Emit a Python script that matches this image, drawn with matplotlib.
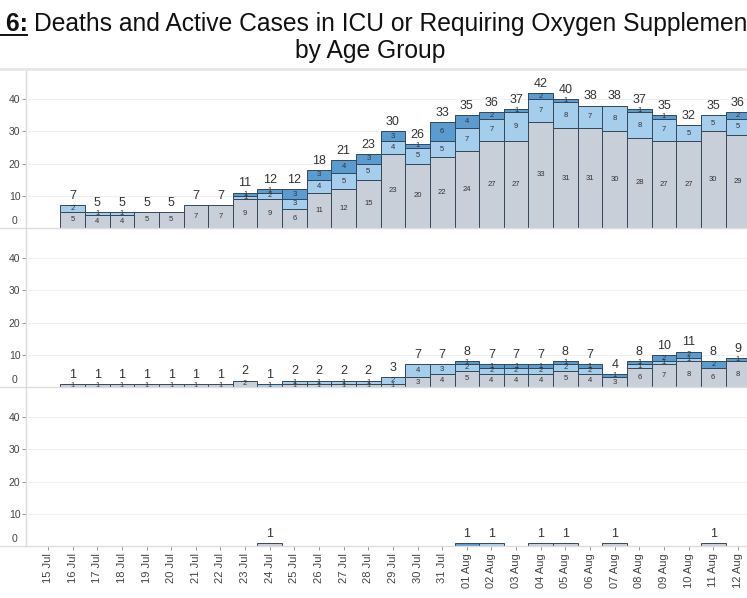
import matplotlib
matplotlib.use("Agg")
import matplotlib.pyplot as plt
from matplotlib.lines import Line2D
from matplotlib.transforms import blended_transform_factory
import numpy as np

plt.rcParams['font.family'] = ['Liberation Sans', 'DejaVu Sans']

# Dates on the x axis
dates = ["15 Jul", "16 Jul", "17 Jul", "18 Jul", "19 Jul", "20 Jul", "21 Jul", "22 Jul",
         "23 Jul", "24 Jul", "25 Jul", "26 Jul", "27 Jul", "28 Jul", "29 Jul", "30 Jul",
         "31 Jul", "01 Aug", "02 Aug", "03 Aug", "04 Aug", "05 Aug", "06 Aug", "07 Aug",
         "08 Aug", "09 Aug", "10 Aug", "11 Aug", "12 Aug"]

# Top panel
top_gray = [0, 5, 4, 4, 5, 5, 7, 7, 9, 9, 6, 11, 12, 15, 23, 20, 22, 24, 27, 27, 33, 31, 31, 30, 28, 27, 27, 30, 29]
top_light = [0, 2, 1, 1, 0, 0, 0, 0, 1, 2, 3, 4, 5, 5, 4, 5, 5, 7, 7, 9, 7, 8, 7, 8, 8, 7, 5, 5, 5]
top_dark = [0, 0, 0, 0, 0, 0, 0, 0, 1, 1, 3, 3, 4, 3, 3, 1, 6, 4, 2, 1, 2, 1, 0, 0, 1, 1, 0, 0, 2]

# Middle panel
mid_gray = [0, 1, 1, 1, 1, 1, 1, 1, 2, 0, 1, 1, 1, 1, 1, 3, 4, 5, 4, 4, 4, 5, 4, 3, 6, 7, 8, 6, 8]
mid_light = [0, 0, 0, 0, 0, 0, 0, 0, 0, 1, 1, 1, 1, 1, 2, 4, 3, 2, 2, 2, 2, 2, 2, 0, 1, 1, 1, 0, 0]
mid_dark = [0, 0, 0, 0, 0, 0, 0, 0, 0, 0, 0, 0, 0, 0, 0, 0, 0, 1, 1, 1, 1, 1, 1, 1, 1, 2, 2, 2, 1]

# Bottom panel
bot_gray = [0, 0, 0, 0, 0, 0, 0, 0, 0, 1, 0, 0, 0, 0, 0, 0, 0, 0, 0, 0, 1, 1, 0, 1, 0, 0, 0, 1, 0]
bot_light = [0, 0, 0, 0, 0, 0, 0, 0, 0, 0, 0, 0, 0, 0, 0, 0, 0, 0, 1, 0, 0, 0, 0, 0, 0, 0, 0, 0, 0]
bot_dark = [0, 0, 0, 0, 0, 0, 0, 0, 0, 0, 0, 0, 0, 0, 0, 0, 0, 1, 0, 0, 0, 0, 0, 0, 0, 0, 0, 0, 0]

panels = [
    (top_gray, top_light, top_dark, True),
    (mid_gray, mid_light, mid_dark, True),
    (bot_gray, bot_light, bot_dark, False),
]

colors = ["#c9cfd9", "#a5cdec", "#5b9cd0"]
edge = "#34475a"
text_col = "#333333"
line_col = "#dcdcdc"

W, H = 747, 598
fig = plt.figure(figsize=(W / 100, H / 100), dpi=100)

x = np.arange(len(dates))
left_px = 26
panel_h = 159
tops = [69, 228, 387]

for k, (g, l, d, inner) in enumerate(panels):
    y0 = tops[k]
    ax = fig.add_axes([left_px / W, 1 - (y0 + panel_h) / H, 1 - left_px / W, panel_h / H])
    g = np.array(g); l = np.array(l); d = np.array(d)
    bottoms = np.zeros(len(x))
    for vals, c in zip([g, l, d], colors):
        mask = vals > 0
        ax.bar(x[mask], vals[mask], bottom=bottoms[mask], width=1.0, color=c,
               edgecolor=edge, linewidth=0.7, zorder=3)
        if inner:
            for xi, v, b in zip(x[mask], vals[mask], bottoms[mask]):
                ax.text(xi, b + v / 2, str(v), ha="center", va="center",
                        fontsize=5.5, color=text_col, zorder=4)
        bottoms = bottoms + vals
    for xi, t in zip(x, bottoms):
        if t > 0:
            ax.text(xi, t + 1.0, str(int(t)), ha="center", va="bottom",
                    fontsize=9, color=text_col, zorder=4)

    ax.set_xlim(-0.893, 28.37)
    ax.set_ylim(0, 49.4)
    ax.set_yticks([10, 20, 30, 40])
    ax.set_yticklabels(["10", "20", "30", "40"])
    ax.tick_params(axis="y", length=3, width=0.6, color="#888888", labelsize=7.5,
                   labelcolor="#444444", pad=1)
    ax.grid(axis="y", color="#f0f0f0", linewidth=0.8, zorder=0)
    for s in ["top", "right", "bottom"]:
        ax.spines[s].set_visible(False)
    ax.spines["left"].set_color(line_col)
    ax.spines["left"].set_linewidth(1.0)
    trans = blended_transform_factory(ax.transAxes, ax.transData)
    ax.text(-0.012, 0.6, "0", transform=trans, ha="right", va="bottom",
            fontsize=7.5, color="#444444")
    # panel baseline across the whole width
    yb = 1 - (y0 + panel_h) / H
    fig.add_artist(Line2D([0, 1], [yb, yb], color=line_col, linewidth=1.0))

    ax.set_xticks(x)
    if k < 2:
        ax.tick_params(axis="x", bottom=False, labelbottom=False)
    else:
        ax.set_xticklabels(dates, rotation=90)
        ax.tick_params(axis="x", length=3, width=0.6, color="#888888", labelsize=8,
                       labelcolor="#444444", pad=2)

# line under the title
yt = 1 - 69 / H
fig.add_artist(Line2D([0, 1], [yt, yt], color="#e6e6e6", linewidth=2.0))

# Title
y1 = 1 - 31 / H
fig.text(34 / W, y1, "Deaths and Active Cases in ICU or Requiring Oxygen Supplementation",
         ha="left", va="baseline", fontsize=17.7, color="#111111")
fig.text(28 / W, y1, "Figure 6:", ha="right", va="baseline", fontsize=17.7,
         fontweight="bold", color="#111111")
yu = 1 - 35 / H
fig.add_artist(Line2D([0, 27 / W], [yu, yu], color="#111111", linewidth=1.4))
fig.text(370 / W, 1 - 58 / H, "by Age Group", ha="center", va="baseline",
         fontsize=17.7, color="#111111")

fig.savefig("out.png", dpi=100)
